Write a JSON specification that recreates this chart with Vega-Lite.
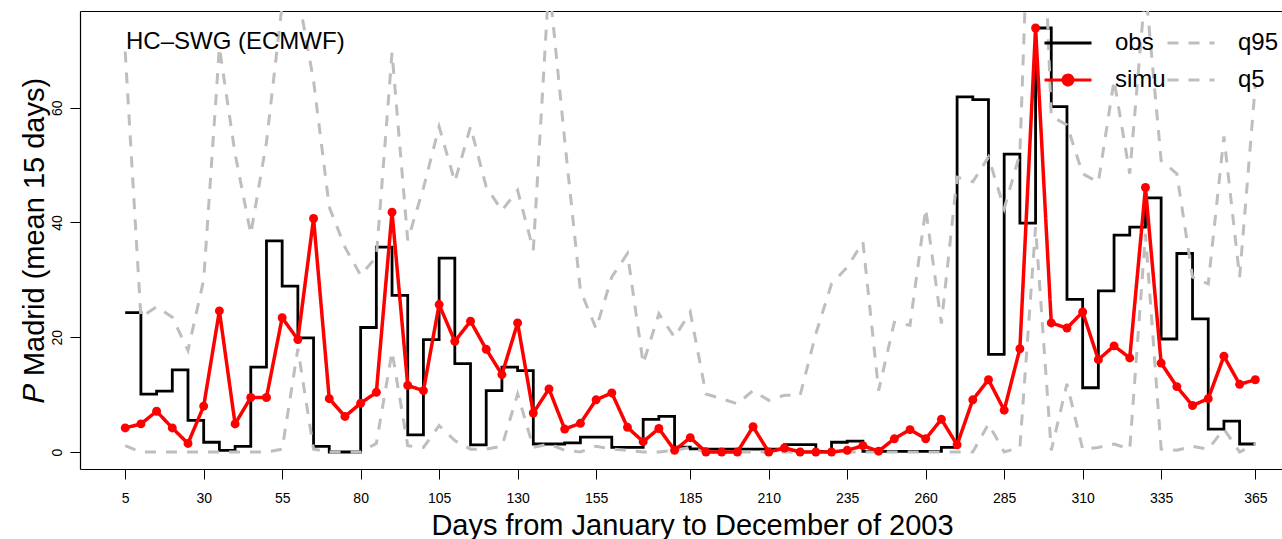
{
  "$schema": "https://vega.github.io/schema/vega-lite/v6.json",
  "width": 1202,
  "height": 458,
  "autosize": {"type": "none"},
  "padding": {"left": 80, "top": 11, "right": 0, "bottom": 70},
  "background": "white",
  "config": {
    "view": {"stroke": null},
    "font": "Liberation Sans",
    "axis": {
      "labelFont": "Liberation Sans",
      "titleFont": "Liberation Sans",
      "labelColor": "black",
      "titleColor": "black",
      "tickColor": "black",
      "domainColor": "black",
      "domainWidth": 1.2,
      "tickWidth": 1,
      "grid": false
    }
  },
  "title": {
    "text": "HC–SWG (ECMWF)",
    "anchor": "start",
    "frame": "group",
    "orient": "top",
    "offset": 0,
    "dx": 46,
    "dy": 62,
    "baseline": "alphabetic",
    "font": "Liberation Sans",
    "fontSize": 24,
    "fontWeight": "normal",
    "color": "black"
  },
  "data": {
    "values": [
      {"day": 5, "obs": 24.3, "simu": 4.2, "q95": 69.8, "q5": 1.1},
      {"day": 10, "obs": 10.1, "simu": 4.9, "q95": 23.5, "q5": 0},
      {"day": 15, "obs": 10.6, "simu": 7.1, "q95": 25.3, "q5": 0},
      {"day": 20, "obs": 14.3, "simu": 4.2, "q95": 23.5, "q5": 0},
      {"day": 25, "obs": 5.5, "simu": 1.5, "q95": 17.7, "q5": 0},
      {"day": 30, "obs": 1.7, "simu": 8.0, "q95": 30.0, "q5": 0},
      {"day": 35, "obs": 0.3, "simu": 24.6, "q95": 70.5, "q5": 0},
      {"day": 40, "obs": 1.0, "simu": 4.9, "q95": 52.0, "q5": 0},
      {"day": 45, "obs": 14.8, "simu": 9.5, "q95": 38.0, "q5": 0},
      {"day": 50, "obs": 36.8, "simu": 9.5, "q95": 54.0, "q5": 0},
      {"day": 55, "obs": 28.9, "simu": 23.4, "q95": 78.0, "q5": 0.5},
      {"day": 60, "obs": 19.9, "simu": 19.6, "q95": 80.0, "q5": 18.0},
      {"day": 65, "obs": 1.0, "simu": 40.7, "q95": 64.7, "q5": 0.5},
      {"day": 70, "obs": 0, "simu": 9.3, "q95": 42.7, "q5": 0},
      {"day": 75, "obs": 0, "simu": 6.2, "q95": 35.7, "q5": 0},
      {"day": 80, "obs": 21.7, "simu": 8.5, "q95": 30.8, "q5": 0},
      {"day": 85, "obs": 35.7, "simu": 10.4, "q95": 34.0, "q5": 1.5},
      {"day": 90, "obs": 27.3, "simu": 41.8, "q95": 69.6, "q5": 17.5},
      {"day": 95, "obs": 3.0, "simu": 11.6, "q95": 36.9, "q5": 1.1},
      {"day": 100, "obs": 19.6, "simu": 10.7, "q95": 46.0, "q5": 0.8},
      {"day": 105, "obs": 33.8, "simu": 25.7, "q95": 56.7, "q5": 4.6},
      {"day": 110, "obs": 15.4, "simu": 19.3, "q95": 47.1, "q5": 2.0},
      {"day": 115, "obs": 1.25, "simu": 22.8, "q95": 56.7, "q5": 0.5},
      {"day": 120, "obs": 10.7, "simu": 17.9, "q95": 46.2, "q5": 0.5},
      {"day": 125, "obs": 14.8, "simu": 13.5, "q95": 42.1, "q5": 1.0},
      {"day": 130, "obs": 14.2, "simu": 22.5, "q95": 45.6, "q5": 10.1},
      {"day": 135, "obs": 1.4, "simu": 6.8, "q95": 35.2, "q5": 0.8},
      {"day": 140, "obs": 1.4, "simu": 11.0, "q95": 82.0, "q5": 1.4},
      {"day": 145, "obs": 1.6, "simu": 4.0, "q95": 54.3, "q5": 0.3},
      {"day": 150, "obs": 2.6, "simu": 5.0, "q95": 28.2, "q5": 0},
      {"day": 155, "obs": 2.6, "simu": 9.1, "q95": 21.5, "q5": 1.0},
      {"day": 160, "obs": 0.8, "simu": 10.3, "q95": 30.5, "q5": 0.5},
      {"day": 165, "obs": 0.8, "simu": 4.3, "q95": 34.6, "q5": 0.3},
      {"day": 170, "obs": 5.7, "simu": 1.8, "q95": 15.4, "q5": 0},
      {"day": 175, "obs": 6.2, "simu": 4.1, "q95": 24.1, "q5": 0},
      {"day": 180, "obs": 0.85, "simu": 0.3, "q95": 20.0, "q5": 0.3},
      {"day": 185, "obs": 0.55, "simu": 2.5, "q95": 24.4, "q5": 0.8},
      {"day": 190, "obs": 0.5, "simu": 0, "q95": 10.1, "q5": 0},
      {"day": 195, "obs": 0.5, "simu": 0, "q95": 9.3, "q5": 0},
      {"day": 200, "obs": 0.5, "simu": 0, "q95": 8.4, "q5": 0},
      {"day": 205, "obs": 0.5, "simu": 4.4, "q95": 10.7, "q5": 0},
      {"day": 210, "obs": 0.5, "simu": 0, "q95": 9.0, "q5": 0},
      {"day": 215, "obs": 1.3, "simu": 0.7, "q95": 9.9, "q5": 0},
      {"day": 220, "obs": 1.3, "simu": 0, "q95": 9.9, "q5": 0},
      {"day": 225, "obs": 0.1, "simu": 0, "q95": 20.6, "q5": 0},
      {"day": 230, "obs": 1.7, "simu": 0, "q95": 29.3, "q5": 0},
      {"day": 235, "obs": 1.9, "simu": 0.3, "q95": 32.2, "q5": 0},
      {"day": 240, "obs": 0.1, "simu": 1.1, "q95": 36.6, "q5": 0},
      {"day": 245, "obs": 0.1, "simu": 0.15, "q95": 10.7, "q5": 0},
      {"day": 250, "obs": 0.1, "simu": 2.3, "q95": 22.6, "q5": 0},
      {"day": 255, "obs": 0.1, "simu": 3.9, "q95": 22.1, "q5": 0},
      {"day": 260, "obs": 0.1, "simu": 2.3, "q95": 42.4, "q5": 0},
      {"day": 265, "obs": 0.8, "simu": 5.7, "q95": 22.4, "q5": 0},
      {"day": 270, "obs": 61.9, "simu": 1.25, "q95": 47.9, "q5": 0},
      {"day": 275, "obs": 61.4, "simu": 9.1, "q95": 47.1, "q5": 0},
      {"day": 280, "obs": 17.0, "simu": 12.6, "q95": 51.4, "q5": 4.9},
      {"day": 285, "obs": 51.9, "simu": 7.3, "q95": 42.4, "q5": 0},
      {"day": 290, "obs": 39.9, "simu": 18.0, "q95": 52.0, "q5": 0.8},
      {"day": 295, "obs": 73.9, "simu": 73.9, "q95": 130.0, "q5": 39.2},
      {"day": 300, "obs": 60.2, "simu": 22.5, "q95": 58.5, "q5": 0.3},
      {"day": 305, "obs": 26.6, "simu": 21.6, "q95": 57.0, "q5": 11.9},
      {"day": 310, "obs": 11.2, "simu": 24.4, "q95": 48.5, "q5": 0.5},
      {"day": 315, "obs": 28.1, "simu": 16.1, "q95": 47.0, "q5": 0.8},
      {"day": 320, "obs": 37.8, "simu": 18.5, "q95": 64.8, "q5": 1.4},
      {"day": 325, "obs": 39.2, "simu": 16.4, "q95": 48.5, "q5": 0.5},
      {"day": 330, "obs": 44.3, "simu": 46.1, "q95": 81.0, "q5": 38.0},
      {"day": 335, "obs": 19.7, "simu": 15.5, "q95": 50.8, "q5": 0.5},
      {"day": 340, "obs": 34.6, "simu": 11.4, "q95": 48.5, "q5": 0.3},
      {"day": 345, "obs": 23.2, "simu": 8.1, "q95": 30.5, "q5": 1.0},
      {"day": 350, "obs": 4.0, "simu": 9.3, "q95": 29.3, "q5": 0.5},
      {"day": 355, "obs": 5.4, "simu": 16.7, "q95": 55.0, "q5": 4.0},
      {"day": 360, "obs": 1.4, "simu": 11.8, "q95": 30.5, "q5": 0},
      {"day": 365, "obs": 1.4, "simu": 12.6, "q95": 64.0, "q5": 1.4}
    ]
  },
  "transform": [
    {"fold": ["obs", "simu", "q95", "q5"], "as": ["series", "value"]}
  ],
  "encoding": {
    "y": {
      "field": "value",
      "type": "quantitative",
      "scale": {"domain": [-2.96, 76.86], "nice": false, "zero": false},
      "axis": {
        "values": [0, 20, 40, 60],
        "title": "𝑃 Madrid (mean 15 days)",
        "titleFontSize": 29,
        "titleFontWeight": "normal",
        "titleAngle": -90,
        "titleBaseline": "alphabetic",
        "titleX": -37,
        "titleY": 229,
        "titleAnchor": null,
        "labelAngle": -90,
        "labelAlign": "center",
        "labelBaseline": "alphabetic",
        "labelFontSize": 14,
        "labelPadding": 9,
        "tickSize": 10
      }
    }
  },
  "layer": [
    {
      "transform": [{"filter": "datum.series == 'obs'"}],
      "mark": {"type": "line", "interpolate": "step-after", "strokeWidth": 2.8, "clip": true},
      "encoding": {
        "x": {
          "field": "day",
          "type": "quantitative",
          "scale": {"domain": [-9.4, 373.5], "nice": false, "zero": false},
          "axis": {
            "orient": "bottom",
            "values": [5, 30, 55, 80, 105, 130, 155, 185, 210, 235, 260, 285, 310, 335, 365],
            "title": "Days from January to December of 2003",
            "titleFontSize": 29,
            "titleFontWeight": "normal",
            "titleBaseline": "alphabetic",
            "titleX": 612,
            "titleY": 65,
            "titleAnchor": null,
            "labelFontSize": 14,
            "labelBaseline": "alphabetic",
            "labelPadding": 23,
            "tickSize": 10
          }
        },
        "color": {
          "field": "series",
          "type": "nominal",
          "scale": {
            "domain": ["obs", "q95", "simu", "q5"],
            "range": ["#000000", "#BEBEBE", "#FF0000", "#BEBEBE"]
          },
          "legend": {
            "title": null,
            "orient": "none",
            "legendX": 963,
            "legendY": 7,
            "columns": 2,
            "direction": "horizontal",
            "padding": 0,
            "symbolType": "stroke",
            "symbolSize": 2209,
            "symbolStrokeWidth": 3,
            "labelFont": "Liberation Sans",
            "labelFontSize": 24,
            "labelColor": "black",
            "labelOffset": 22,
            "columnPadding": -10,
            "rowPadding": -9,
            "encode": {
              "symbols": {
                "update": {
                  "shape": {"signal": "datum.value === 'simu' ? 'M-1,0H1M0.21,0A0.21,0.21 0 1,1 -0.21,0A0.21,0.21 0 1,1 0.21,0Z' : 'stroke'"},
                  "fill": {"signal": "datum.value === 'simu' ? '#FF0000' : 'transparent'"}
                }
              }
            }
          }
        },
        "strokeDash": {
          "field": "series",
          "type": "nominal",
          "scale": {
            "domain": ["obs", "q95", "simu", "q5"],
            "range": [[1, 0], [11, 10], [1, 0], [11, 10]]
          },
          "legend": null
        }
      }
    },
    {
      "transform": [{"filter": "datum.series == 'q95' || datum.series == 'q5'"}],
      "mark": {"type": "line", "strokeWidth": 3, "clip": true},
      "encoding": {
        "x": {
          "field": "day",
          "type": "quantitative",
          "axis": {"orient": "top", "labels": false, "ticks": false, "title": null, "domain": true}
        },
        "color": {"field": "series", "type": "nominal"},
        "strokeDash": {"field": "series", "type": "nominal"}
      }
    },
    {
      "transform": [{"filter": "datum.series == 'simu'"}],
      "mark": {"type": "line", "strokeWidth": 3.5, "clip": true},
      "encoding": {
        "x": {"field": "day", "type": "quantitative", "axis": null},
        "color": {"field": "series", "type": "nominal"},
        "strokeDash": {"field": "series", "type": "nominal"}
      }
    },
    {
      "transform": [{"filter": "datum.series == 'simu'"}],
      "mark": {"type": "circle", "color": "#FF0000", "size": 80, "opacity": 1, "clip": true},
      "encoding": {
        "x": {"field": "day", "type": "quantitative", "axis": null}
      }
    }
  ],
  "resolve": {"axis": {"x": "independent"}}
}
